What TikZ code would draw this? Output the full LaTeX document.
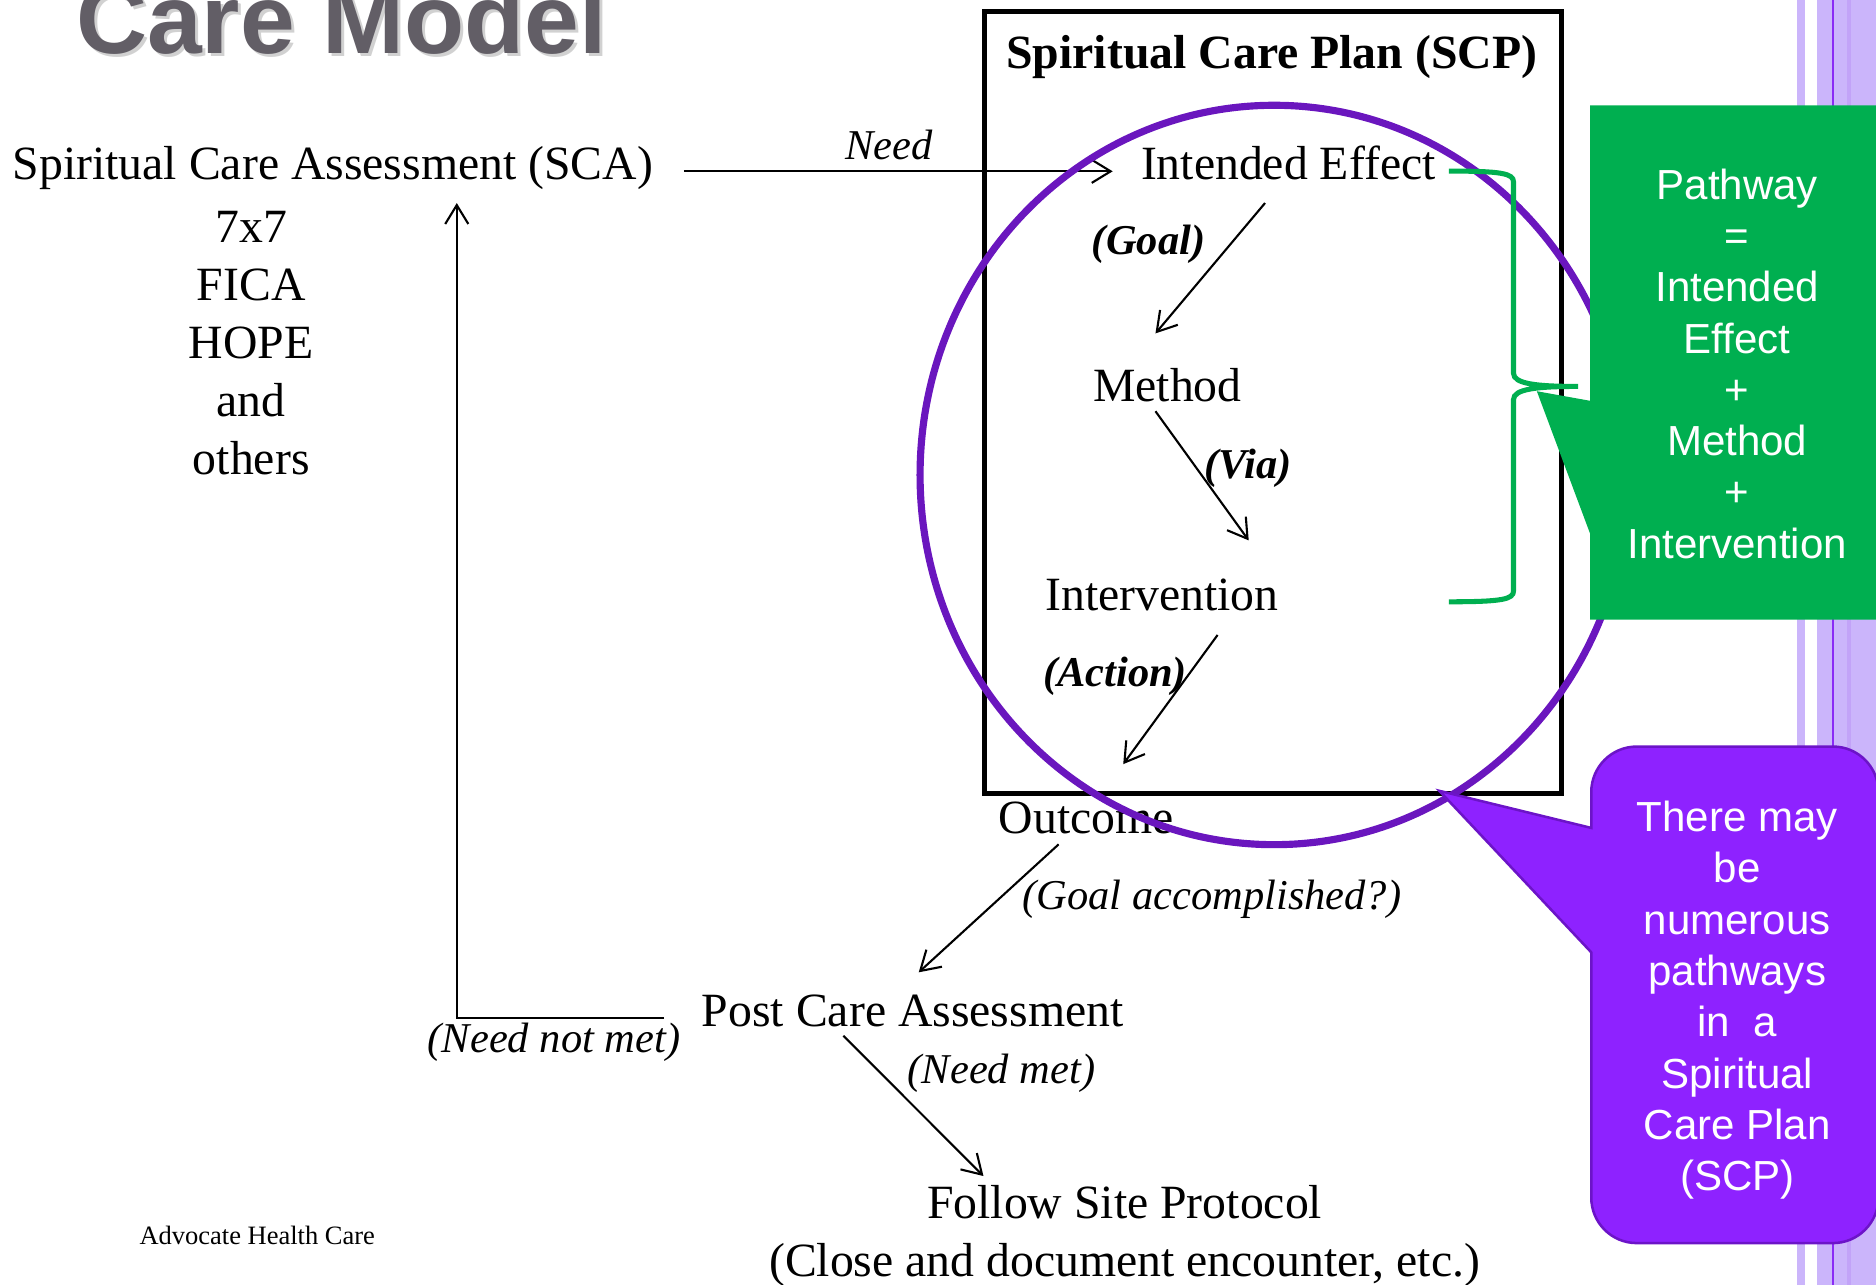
\documentclass[tikz,border=0pt]{standalone}
\usepackage[dvipsnames]{xcolor}
\usepackage{fontspec}
\setmainfont{Liberation Serif}
\setsansfont{Liberation Sans}
\usetikzlibrary{arrows.meta}

\definecolor{circlepurple}{HTML}{6A16BE}
\definecolor{calloutpurple}{HTML}{8E22FF}
\definecolor{calloutedge}{HTML}{6C14C8}
\definecolor{calloutgreen}{HTML}{00AF50}
\definecolor{stripelight}{HTML}{CBB5FB}
\definecolor{stripemid}{HTML}{C2A3F8}
\definecolor{stripedark}{HTML}{8A2BF5}
\definecolor{titlegrey}{HTML}{625E66}

\begin{document}
\begin{tikzpicture}[>={Straight Barb[length=4.5pt,width=5.5pt]},
    main node/.style={inner sep=0pt,text height=0.7em,text depth=0.2em,font=\fontsize{11.35}{13.8}\selectfont},
    list node/.style={inner sep=0pt,align=center,font=\fontsize{11.35}{13.8}\selectfont},
    note node/.style={main node,font=\fontsize{10.1}{12}\selectfont\itshape},
    bold node/.style={main node,font=\fontsize{10.1}{12}\selectfont\bfseries\itshape},
    call node/.style={inner sep=0pt,align=center,text=white,font=\sffamily\fontsize{10}{12.2}\selectfont}]
    \useasboundingbox (0,0) rectangle (15.68,10.74);

    % stripes on the right edge
    \fill[stripelight] (15.02,0) rectangle (15.088,10.74);
    \fill[stripelight] (15.187,0) rectangle (15.68,10.74);
    \fill[stripemid] (15.438,0) rectangle (15.471,10.74);
    \fill[stripedark] (15.310,0) rectangle (15.327,10.74);

    % heading
    \node (shadow) [anchor=base west,inner sep=0pt,text=black!18,font=\sffamily\bfseries\fontsize{23.4}{23.4}\selectfont] at (0.655,10.265) {Care Model};
    \node (title) [anchor=base west,inner sep=0pt,text=titlegrey,font=\sffamily\bfseries\fontsize{23.4}{23.4}\selectfont] at (0.63,10.29) {Care Model};

    % the plan box
    \draw[line width=1.2pt] (8.23,4.11) rectangle (13.05,10.64);
    \node (scp) [main node,font=\fontsize{11.35}{13.8}\selectfont\bfseries,anchor=base] at (10.63,10.17) {Spiritual Care Plan (SCP)};

    \node (1) [main node,anchor=base west] at (0.10,9.24) {Spiritual Care Assessment (SCA)};
    \node (tools) [list node] at (2.10,7.875) {7x7\\FICA\\HOPE\\and\\others};
    \node (2) [main node,anchor=base west] at (9.53,9.24) {Intended Effect};
    \node (3) [main node,anchor=base west] at (9.13,7.38) {Method};
    \node (4) [main node,anchor=base west] at (8.73,5.64) {Intervention};
    \node (5) [main node,anchor=base west] at (8.34,3.77) {Outcome};
    \node (6) [main node,anchor=base west] at (5.86,2.16) {Post Care Assessment};
    \node (7) [list node] at (9.40,0.41) {Follow Site Protocol\\(Close and document encounter, etc.)};

    \node (need) [note node,anchor=base] at (7.43,9.41) {Need};
    \node (goal) [bold node,anchor=base] at (9.60,8.61) {(Goal)};
    \node (via) [bold node,anchor=base] at (10.43,6.74) {(Via)};
    \node (action) [bold node,anchor=base] at (9.32,5.00) {(Action)};
    \node (accomplished) [note node,anchor=base] at (10.13,3.14) {(Goal accomplished?)};
    \node (notmet) [note node,anchor=base] at (4.63,1.94) {(Need not met)};
    \node (met) [note node,anchor=base] at (8.37,1.68) {(Need met)};
    \node (advocate) [inner sep=0pt,font=\fontsize{6.3}{7}\selectfont,anchor=base] at (2.15,0.34) {Advocate Health Care};

    \path[->,line width=0.5pt]
        ([xshift=2.5mm,yshift=-0.2mm]1.east) edge ([xshift=-2.3mm,yshift=-0.2mm]2.west)
        ([xshift=-1.95mm,yshift=-1.2mm]2.south) edge ([xshift=-1mm,yshift=3.2mm]3.north)
        ([xshift=-1mm]3.south) edge ([xshift=7.25mm,yshift=3.3mm]4.north)
        ([xshift=4.65mm,yshift=-1.3mm]4.south) edge ([xshift=3.1mm,yshift=3.3mm]5.north)
        ([xshift=-2.3mm,yshift=-0.1mm]5.south) edge ([xshift=0.5mm,yshift=2mm]6.north)
        ([xshift=-5.8mm]6.south) edge ([xshift=-11.8mm,yshift=0.7mm]7.north)
        ;
    \draw[->,line width=0.5pt] ([xshift=-3.1mm,yshift=-0.2mm]6.west) -| ([xshift=10.35mm,yshift=-1.2mm]1.south);

    % pathway ring
    \draw[circlepurple,line width=1.7pt] (10.65,6.77) ellipse [x radius=2.96,y radius=3.09];

    % brace around the pathway
    \draw[calloutgreen,line width=1.2pt] (12.11,9.31) .. controls (12.55,9.31) and (12.65,9.29) .. (12.65,9.22)
        -- (12.65,7.62) .. controls (12.65,7.53) and (12.85,7.51) .. (13.19,7.51)
        .. controls (12.85,7.51) and (12.65,7.49) .. (12.65,7.40)
        -- (12.65,5.80) .. controls (12.65,5.73) and (12.55,5.71) .. (12.11,5.71);

    % green callout
    \fill[calloutgreen] (13.29,9.86) -- (15.70,9.86) -- (15.70,5.56) -- (13.29,5.56)
        -- (13.29,6.28) -- (12.845,7.47) -- (13.29,7.39) -- cycle;
    \node (pathway) [call node] at (14.52,7.70) {Pathway\\=\\Intended\\Effect\\+\\Method\\+\\Intervention};

    % purple callout
    \filldraw[fill=calloutpurple,draw=calloutedge,line width=0.6pt] (13.30,3.82) -- (12.03,4.13) -- (13.30,2.78)
        -- (13.30,0.73) arc[start angle=180,end angle=270,radius=0.38]
        -- (15.32,0.35) arc[start angle=270,end angle=360,radius=0.38]
        -- (15.70,4.12) arc[start angle=0,end angle=90,radius=0.38]
        -- (13.68,4.50) arc[start angle=90,end angle=180,radius=0.38] -- cycle;
    \node (pathways) [call node] at (14.52,2.38) {There may\\be\\numerous\\pathways\\in~ a\\Spiritual\\Care Plan\\(SCP)};
\end{tikzpicture}
\end{document}
